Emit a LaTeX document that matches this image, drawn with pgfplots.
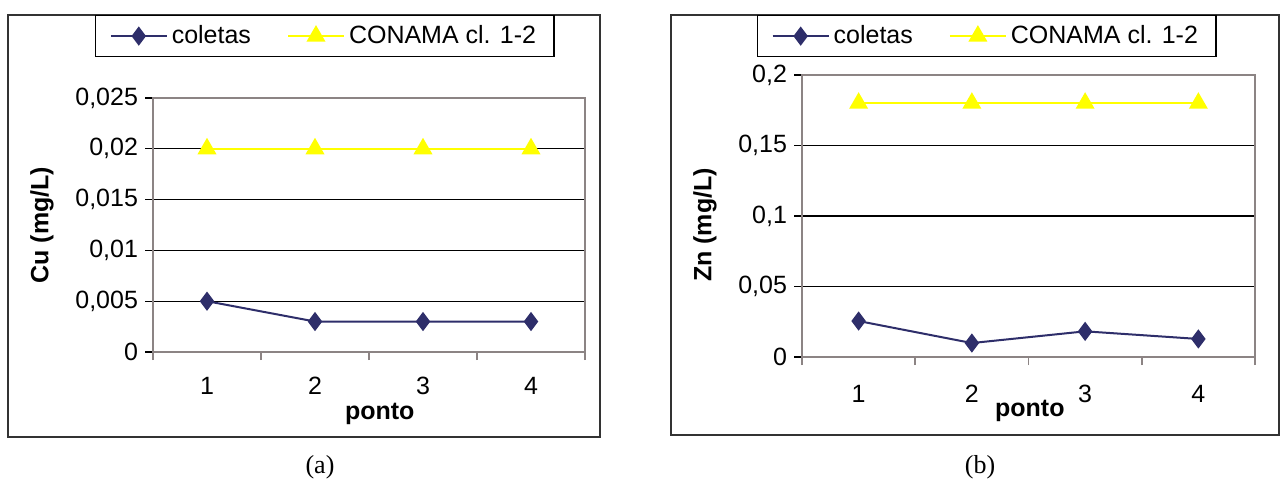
\documentclass[border=0pt]{standalone}
\usepackage{fontspec}
\setmainfont{Liberation Sans}
\newfontfamily\timesfont{Liberation Serif}
\usepackage{pgfplots}
\pgfplotsset{compat=1.18}
\definecolor{navy}{RGB}{46,46,106}
\definecolor{yel}{RGB}{255,255,0}
\definecolor{framegray}{RGB}{140,132,132}
\newcommand{\cf}{\fontsize{12.5}{15}\selectfont}
\pgfplotsset{
  panel/.style={
    scale only axis,
    anchor=south west,
    xmin=0.5, xmax=4.5,
    axis line style={framegray, line width=0.8pt},
    tick align=outside,
    xtick pos=bottom, ytick pos=left,
    scaled y ticks=false,
    ymajorgrids,
    major grid style={black, line width=0.6pt},
    xtick={0.5,1.5,2.5,3.5,4.5},
    xticklabels={},
    extra x ticks={1,2,3,4},
    extra x tick labels={1,2,3,4},
    x tick style={framegray, line width=0.8pt},
    major tick length=4pt,
    y tick style={black, line width=0.6pt},
    tick label style={font=\cf, /pgf/number format/assume math mode=true},
    label style={font=\cf\bfseries},
    legend style={draw=black, line width=0.6pt, font=\cf, inner xsep=7pt, inner ysep=3pt,
      /tikz/every even column/.append style={column sep=16pt}},
    legend columns=2,
    legend image code/.code={\draw[mark repeat=2,mark phase=2,##1] plot coordinates {(0pt,0pt) (14pt,0pt) (28pt,0pt)};},
    clip=false,
  },
  col/.style={navy, line width=1pt, mark=diamond*, mark size=4pt, mark options={fill=navy, draw=navy}},
  con/.style={yel, line width=1pt, mark=triangle*, mark size=4.5pt, mark options={fill=yel, draw=yel}},
}
\begin{document}
\begin{tikzpicture}
\useasboundingbox (0,0) rectangle (640pt,241.5pt);
\fill[white] (0,0) rectangle (640pt,241.5pt);
% frames
\draw[black!80, line width=0.7pt] (4pt,23pt) rectangle (300pt,234pt);
\draw[black!80, line width=0.7pt] (335.5pt,24pt) rectangle (639.5pt,234pt);
\begin{axis}[panel,
  at={(76.5pt,65.5pt)}, width=216pt, height=127pt,
  ymin=0, ymax=0.025,
  ytick={0,0.005,0.01,0.015,0.02,0.025},
  yticklabels={0,{0,005},{0,01},{0,015},{0,02},{0,025}},
  extra x tick style={major tick length=0pt, grid=none, xticklabel style={yshift=-9pt}},
  xlabel={ponto}, ylabel={Cu (mg/L)},
  xlabel style={at={(axis description cs:0.525,-0.244)}, anchor=center},
  ylabel style={at={(axis description cs:-0.257,0.5)}, anchor=center, rotate=0},
  legend style={at={(axis description cs:0.398,1.327)}, anchor=north},
]
\addplot[col] coordinates {(1,0.005) (2,0.003) (3,0.003) (4,0.003)};
\addlegendentry{coletas}
\addplot[con] coordinates {(1,0.02) (2,0.02) (3,0.02) (4,0.02)};
\addlegendentry{CONAMA cl. 1-2}
\end{axis}
\begin{axis}[panel,
  at={(401pt,63pt)}, width=226.5pt, height=141pt,
  ymin=0, ymax=0.2,
  ytick={0,0.05,0.1,0.15,0.2},
  yticklabels={0,{0,05},{0,1},{0,15},{0,2}},
  extra x tick style={major tick length=0pt, grid=none, xticklabel style={yshift=-10.5pt}},
  xlabel={ponto}, ylabel={Zn (mg/L)},
  xlabel style={at={(axis description cs:0.503,-0.191)}, anchor=center},
  ylabel style={at={(axis description cs:-0.214,0.468)}, anchor=center, rotate=0},
  legend style={at={(axis description cs:0.408,1.213)}, anchor=north},
]
\addplot[col] coordinates {(1,0.0255) (2,0.0099) (3,0.0182) (4,0.0128)};
\addlegendentry{coletas}
\addplot[con] coordinates {(1,0.18) (2,0.18) (3,0.18) (4,0.18)};
\addlegendentry{CONAMA cl. 1-2}
\end{axis}
\node[font=\timesfont\fontsize{13}{15}\selectfont] at (160pt,8pt) {(a)};
\node[font=\timesfont\fontsize{13}{15}\selectfont] at (490pt,8pt) {(b)};
\end{tikzpicture}
\end{document}
